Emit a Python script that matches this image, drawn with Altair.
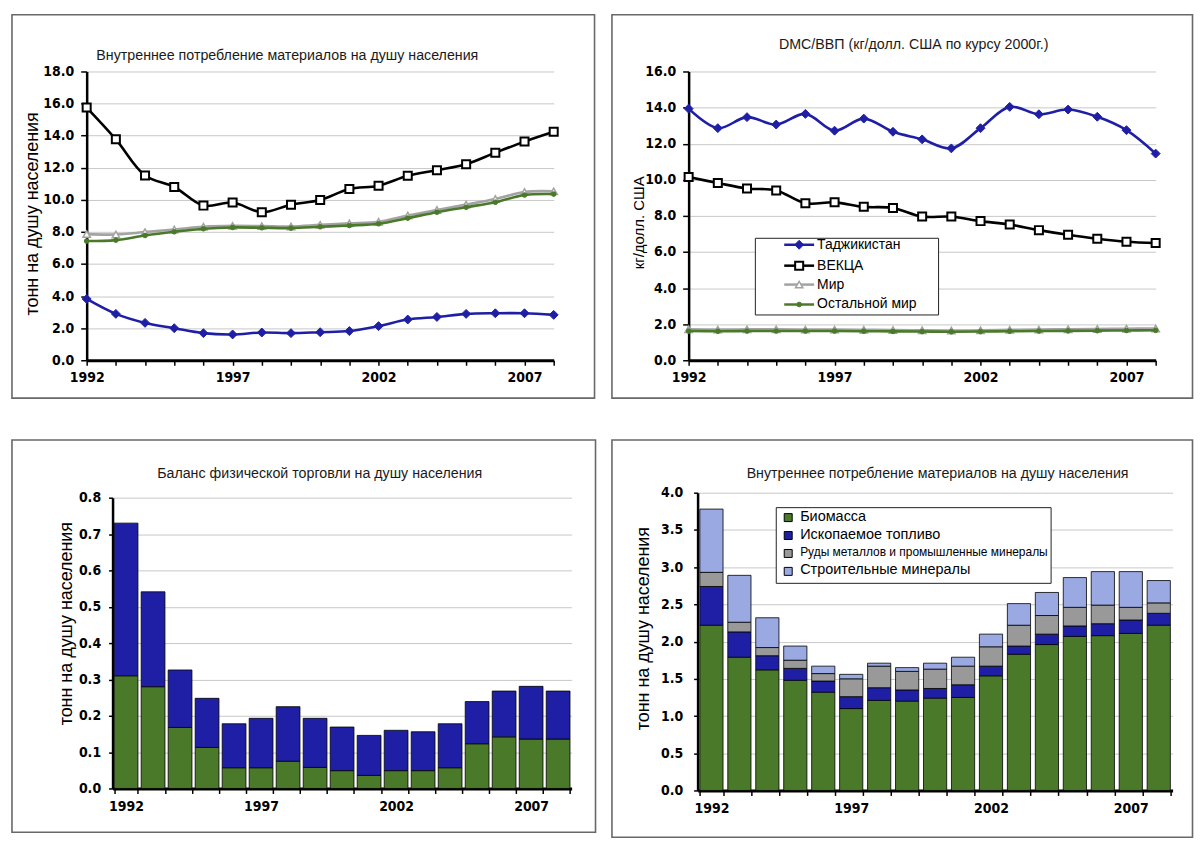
import altair as alt
import pandas as pd

years = list(range(1992, 2009))
series_names = ["Таджикистан", "ВЕКЦА", "Мир", "Остальной мир"]

# Panel 1: domestic material consumption per capita, t/cap
dmc_tj = [3.82, 2.89, 2.33, 2.00, 1.69, 1.61, 1.73, 1.69, 1.75, 1.82, 2.13, 2.54, 2.70, 2.89, 2.93, 2.93, 2.83]
dmc_eeca = [15.75, 13.77, 11.52, 10.80, 9.64, 9.83, 9.23, 9.70, 9.99, 10.67, 10.88, 11.50, 11.85, 12.22, 12.94, 13.63, 14.24]
dmc_world = [7.86, 7.84, 7.99, 8.15, 8.32, 8.38, 8.36, 8.34, 8.44, 8.53, 8.63, 9.02, 9.37, 9.70, 10.05, 10.49, 10.53]
dmc_rest = [7.43, 7.49, 7.78, 8.01, 8.20, 8.28, 8.26, 8.24, 8.32, 8.40, 8.51, 8.86, 9.23, 9.54, 9.85, 10.30, 10.36]

# Panel 2: DMC/GDP, kg per USD (2000 prices)
int_tj = [13.94, 12.86, 13.47, 13.06, 13.65, 12.72, 13.39, 12.66, 12.24, 11.74, 12.86, 14.04, 13.63, 13.89, 13.49, 12.75, 11.45]
int_eeca = [10.15, 9.82, 9.52, 9.41, 8.70, 8.75, 8.50, 8.44, 7.96, 7.96, 7.71, 7.52, 7.21, 6.95, 6.73, 6.57, 6.50]
int_world = [1.72, 1.70, 1.71, 1.71, 1.70, 1.70, 1.69, 1.68, 1.66, 1.65, 1.66, 1.69, 1.70, 1.72, 1.73, 1.75, 1.76]
int_rest = [1.62, 1.61, 1.62, 1.62, 1.62, 1.62, 1.61, 1.60, 1.59, 1.58, 1.59, 1.61, 1.62, 1.63, 1.64, 1.65, 1.66]

# Panel 3: physical trade balance per capita, t/cap (two stacked parts)
ptb_cats = ["Биомасса ", "Ископаемое топливо "]
ptb_green = [0.310, 0.280, 0.168, 0.113, 0.057, 0.057, 0.075, 0.058, 0.049, 0.036, 0.049, 0.049, 0.057, 0.123, 0.142, 0.136, 0.136]
ptb_blue = [0.420, 0.261, 0.158, 0.135, 0.121, 0.136, 0.150, 0.135, 0.120, 0.110, 0.111, 0.107, 0.121, 0.116, 0.126, 0.145, 0.132]

# Panel 4: DMC per capita by material group, t/cap
mat_cats = ["Биомасса", "Ископаемое топливо", "Руды металлов и промышленные минералы", "Строительные минералы"]
mat_bio = [2.22, 1.79, 1.62, 1.48, 1.32, 1.10, 1.21, 1.20, 1.24, 1.25, 1.54, 1.83, 1.96, 2.07, 2.08, 2.11, 2.22]
mat_fossil = [0.52, 0.34, 0.19, 0.16, 0.15, 0.16, 0.17, 0.15, 0.13, 0.17, 0.13, 0.11, 0.14, 0.14, 0.16, 0.18, 0.16]
mat_ores = [0.19, 0.13, 0.11, 0.11, 0.10, 0.24, 0.29, 0.25, 0.26, 0.25, 0.26, 0.28, 0.25, 0.25, 0.25, 0.17, 0.14]
mat_constr = [0.85, 0.63, 0.40, 0.19, 0.10, 0.06, 0.04, 0.05, 0.08, 0.12, 0.17, 0.29, 0.31, 0.40, 0.45, 0.48, 0.30]

FONT_AX = "DejaVu Sans Condensed"
FONT_TXT = "Liberation Sans"
BLUE = "#1f1fa6"
GREEN = "#4a7a29"
GRAY = "#a3a3a3"
ORE = "#999999"
LBLUE = "#9aa9e2"

styles = {
    "Таджикистан": dict(line=BLUE, shape="diamond", fill=BLUE, stroke=BLUE, size=80, sw=1),
    "ВЕКЦА": dict(line="black", shape="square", fill="white", stroke="black", size=65, sw=2),
    "Мир": dict(line=GRAY, shape="triangle-up", fill="white", stroke=GRAY, size=55, sw=1.5),
    "Остальной мир": dict(line=GREEN, shape="circle", fill=GREEN, stroke=GREEN, size=22, sw=1),
}


def frame(w, h, l, r, t, b):
    return alt.Chart(pd.DataFrame({"f": [0]})).mark_rect(
        fill="white", fillOpacity=0, stroke="#686868", strokeWidth=1.6
    ).encode(x=alt.value(-l), x2=alt.value(w + r), y=alt.value(-t), y2=alt.value(h + b))


def title_mark(text, x, y, size=14.3):
    return alt.Chart(pd.DataFrame({"t": [text]})).mark_text(
        font=FONT_TXT, fontSize=size, color="#1a1a1a", align="center", baseline="middle"
    ).encode(x=alt.value(x), y=alt.value(y), text="t:N")


def legend_box(x0, x1, y0, y1):
    return alt.Chart(pd.DataFrame({"f": [0]})).mark_rect(
        fill="white", stroke="#222", strokeWidth=1
    ).encode(x=alt.value(x0), x2=alt.value(x1), y=alt.value(y0), y2=alt.value(y1))


def y_axis(values, title, tsize, tx, ty, tick, pad, offset=0):
    return alt.Axis(values=values, format=".1f", title=title, titleFont=FONT_TXT,
                    titleFontSize=tsize, titleFontWeight="normal", titleColor="black",
                    titleAngle=270, titleX=tx, titleY=ty, titleAlign="center",
                    titleBaseline="middle", tickSize=tick, labelPadding=pad,
                    grid=True, gridColor="#c8c8c8", gridWidth=1, domainWidth=2.5,
                    labelFlush=False, offset=offset)


def line_panel(values_list, ymax, w, h, yaxis, border, title, tpos, legend=False):
    layers = [frame(w, h, *border), title_mark(title, *tpos)]
    xaxis = alt.Axis(values=years, format="d", labelExpr="datum.value % 5 == 2 ? datum.label : ''",
                     labelOverlap=False, labelFlush=False, title=None, tickSize=5, labelPadding=5,
                     grid=False, domainWidth=3, labelAngle=0)
    for name, vals in zip(series_names, values_list):
        st = styles[name]
        df = pd.DataFrame({"year": years, "v": vals, "s": name})
        base = alt.Chart(df).encode(
            x=alt.X("year:Q", scale=alt.Scale(domain=[1992, 2008], nice=False, zero=False), axis=xaxis),
            y=alt.Y("v:Q", scale=alt.Scale(domain=[0, ymax], nice=False), axis=yaxis),
        )
        layers.append(base.mark_line(color=st["line"], strokeWidth=2.6, interpolate="catmull-rom"))
        layers.append(base.mark_point(shape=st["shape"], filled=True, fill=st["fill"], stroke=st["stroke"],
                                      strokeWidth=st["sw"], size=st["size"], opacity=1))
    if legend:
        layers.append(legend_box(67, 251, 167.5, 244.5))
        for name, ly in zip(series_names, [174, 195, 214, 234]):
            st = styles[name]
            c = alt.Chart(pd.DataFrame({"s": [name]}))
            layers.append(c.mark_rule(color=st["line"], strokeWidth=2.5).encode(
                x=alt.value(96), x2=alt.value(126), y=alt.value(ly)))
            layers.append(c.mark_point(shape=st["shape"], filled=True, fill=st["fill"], stroke=st["stroke"],
                                       strokeWidth=st["sw"], size=st["size"], opacity=1).encode(
                x=alt.value(111), y=alt.value(ly)))
            layers.append(c.mark_text(align="left", baseline="middle", font=FONT_TXT, fontSize=14,
                                      color="black").encode(x=alt.value(129), y=alt.value(ly), text="s:N"))
    return alt.layer(*layers).properties(width=w, height=h)


def bar_panel(parts, cats, cols, ymax, w, h, yaxis, pi, po, border, title, tpos, legend=None, shift=0):
    rows = []
    for k, (cat, vals) in enumerate(zip(cats, parts)):
        for yr, v in zip(years, vals):
            rows.append({"year": yr, "cat": cat, "v": v, "k": k})
    df = pd.DataFrame(rows)
    xaxis = alt.Axis(title=None, labelAngle=0, labelExpr="datum.value % 5 == 2 ? datum.label : ''",
                     labelOverlap=False, tickBand="extent", tickSize=5, labelPadding=6,
                     domainWidth=3, grid=False)
    xscale = alt.Scale(paddingInner=pi, paddingOuter=po, range=[shift, w + shift]) if shift else \
        alt.Scale(paddingInner=pi, paddingOuter=po)
    bars = alt.Chart(df).mark_bar(stroke="black", strokeWidth=0.8).encode(
        x=alt.X("year:O", scale=xscale, axis=xaxis),
        y=alt.Y("v:Q", stack="zero", scale=alt.Scale(domain=[0, ymax], nice=False), axis=yaxis),
        color=alt.Color("cat:N", scale=alt.Scale(domain=cats, range=cols), legend=None),
        order=alt.Order("k:Q", sort="ascending"),
    )
    layers = [frame(w + shift, h, *border), title_mark(title, *tpos), bars]
    if legend:
        box, entries = legend
        layers.append(legend_box(*box))
        for (cat, col), (ly, fsize) in zip(zip(cats, cols), entries):
            c = alt.Chart(pd.DataFrame({"s": [cat]}))
            layers.append(c.mark_point(shape="square", filled=True, fill=col, stroke="black",
                                       strokeWidth=1, size=64, opacity=1).encode(
                x=alt.value(box[0] + 12), y=alt.value(ly + 1)))
            layers.append(c.mark_text(align="left", baseline="middle", font=FONT_TXT, fontSize=fsize,
                                      color="black").encode(x=alt.value(box[0] + 24), y=alt.value(ly), text="s:N"))
    return alt.layer(*layers).properties(width=w + shift, height=h)


p1 = line_panel(
    [dmc_tj, dmc_eeca, dmc_world, dmc_rest], 18, 469, 290,
    y_axis(list(range(0, 19, 2)), "тонн на душу населения", 18, -54, 142.5, 6, 7),
    (75, 41, 57, 38), "Внутреннее потребление материалов на душу населения", (201.5, -15.5),
)
p2 = line_panel(
    [int_tj, int_eeca, int_world, int_rest], 16, 469, 290,
    y_axis(list(range(0, 17, 2)), "кг/долл. США", 15, -50, 151.5, 6, 7),
    (77, 37, 57, 38), "DMC/ВВП (кг/долл. США по курсу 2000г.)", (226, -26.5), legend=True,
)
p3 = bar_panel(
    [ptb_green, ptb_blue], ptb_cats, [GREEN, BLUE], 0.8, 461, 292,
    y_axis([round(i * 0.1, 1) for i in range(9)], "тонн на душу населения", 18, -46, 126, 4, 8, offset=-26),
    0.12, 0.06, (75, 24, 58, 44), "Баланс физической торговли на душу населения", (234, -24),
    shift=26,
)
p4 = bar_panel(
    [mat_bio, mat_fossil, mat_ores, mat_constr], mat_cats, [GREEN, BLUE, ORE, LBLUE], 4.0, 477, 299,
    y_axis([round(i * 0.5, 1) for i in range(9)], "тонн на душу населения", 18, -54, 136, 4, 11),
    0.17, 0.08, (86, 20, 53, 47), "Внутреннее потребление материалов на душу населения", (241, -19),
    legend=((79, 355, 15, 91), [(24, 14.5), (42, 14.5), (60, 12), (78, 14.5)]),
)

chart = alt.concat(
    p1, p2, p3, p4, columns=2, align="none", spacing={"row": 40, "column": 14.5}
).resolve_scale(color="independent").properties(
    padding={"left": 3, "top": 4, "right": 0, "bottom": 0}
).configure_view(strokeWidth=0).configure_axis(
    labelFont=FONT_AX, labelFontWeight="bold", labelFontSize=14, labelColor="black",
    domainColor="black", tickColor="black", tickWidth=1.5,
)

chart.save("out.html", embed_options={"renderer": "svg", "actions": False})
